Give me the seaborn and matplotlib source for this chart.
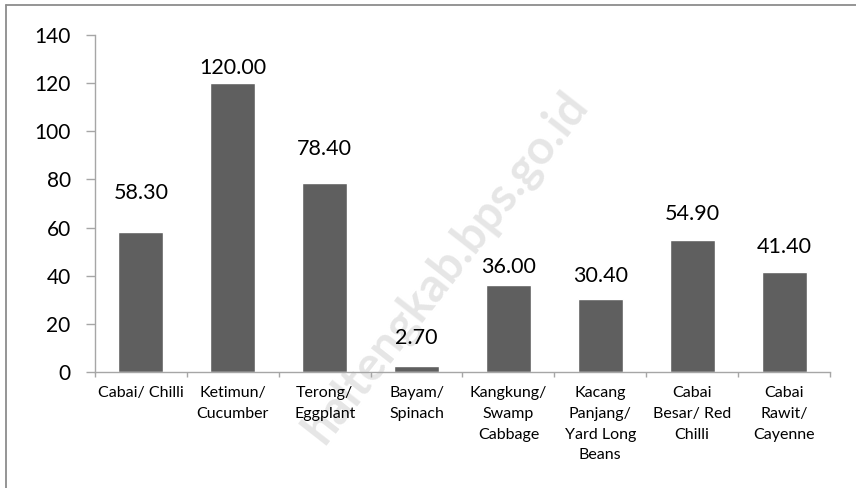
import matplotlib
matplotlib.use("Agg")
import matplotlib.pyplot as plt
from matplotlib.lines import Line2D
import seaborn as sns
import pandas as pd

# data
categories = [
    "Cabai/ Chilli",
    "Ketimun/\nCucumber",
    "Terong/\nEggplant",
    "Bayam/\nSpinach",
    "Kangkung/\nSwamp\nCabbage",
    "Kacang\nPanjang/\nYard Long\nBeans",
    "Cabai\nBesar/ Red\nChilli",
    "Cabai\nRawit/\nCayenne",
]
values = [58.30, 120.00, 78.40, 2.70, 36.00, 30.40, 54.90, 41.40]
y_ticks = [0, 20, 40, 60, 80, 100, 120, 140]

# labels in the original sit at uneven heights above the bars
label_offsets = [15.9, 6.1, 14.2, 11.6, 7.8, 9.5, 10.9, 10.7]

df = pd.DataFrame({"category": categories, "value": values})

sns.set_style("white")
plt.rcParams["font.family"] = ["Lato", "DejaVu Sans"]

fig = plt.figure(figsize=(8.56, 4.88), dpi=100)
ax = fig.add_axes([0.111, 0.2377, 0.8586, 0.6906])

# watermark behind the bars
fig.text(0.675, 0.80, "haltengkab.bps.go.id", rotation=52, fontsize=34,
         fontweight="bold", color="#e6e6e6", ha="right", va="center",
         rotation_mode="anchor", zorder=0)
ax.set_zorder(1)
ax.patch.set_alpha(0)

sns.barplot(data=df, x="category", y="value", color="#5f5f5f", width=0.49,
            saturation=1, ax=ax, zorder=2)

for i, (v, off) in enumerate(zip(values, label_offsets)):
    ax.text(i, v + off, f"{v:.2f}", ha="center", va="center", fontsize=15.5,
            color="black")

ax.set_ylim(0, 140)
ax.set_xlim(-0.5, len(categories) - 0.5)
ax.set_yticks(y_ticks)
ax.set_yticklabels([str(t) for t in y_ticks], fontsize=15, color="black")
ax.set_xticks(range(len(categories)))
ax.set_xticklabels(categories, fontsize=11.5, linespacing=1.62, va="top",
                   color="black")
ax.set_xlabel("")
ax.set_ylabel("")

# ticks between categories on x axis, outward ticks on y axis
ax.set_xticks([i + 0.5 for i in range(-1, len(categories))], minor=True)
ax.tick_params(axis="x", which="major", length=0, pad=10)
ax.tick_params(axis="x", which="minor", length=3.6, color="#a6a6a6", width=1,
               bottom=True)
ax.tick_params(axis="y", length=6.5, color="#a6a6a6", width=1, left=True,
               pad=11)

for side in ["top", "right"]:
    ax.spines[side].set_visible(False)
for side in ["left", "bottom"]:
    ax.spines[side].set_color("#a6a6a6")
    ax.spines[side].set_linewidth(1)

# outer chart border (only top and left edges are inside the crop)
fig.add_artist(Line2D([0.0065, 1.0], [0.9905, 0.9905], color="#8c8c8c",
                      linewidth=1.3, transform=fig.transFigure))
fig.add_artist(Line2D([0.0065, 0.0065], [0.0, 0.9905], color="#8c8c8c",
                      linewidth=1.3, transform=fig.transFigure))

fig.savefig("out.png", dpi=100)
